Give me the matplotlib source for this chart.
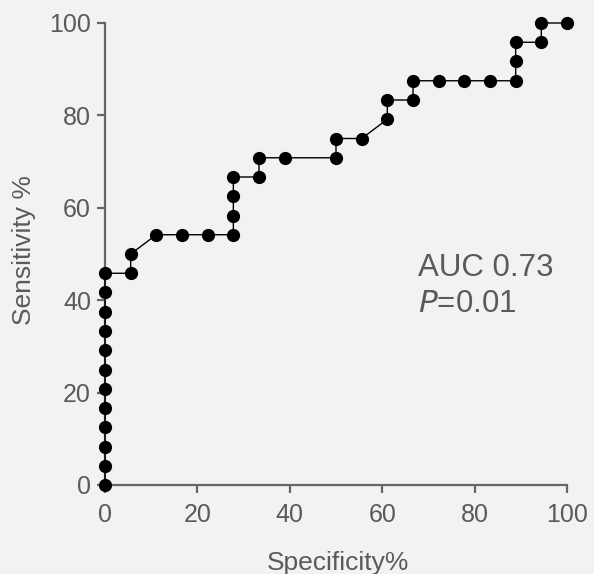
import matplotlib
matplotlib.use('Agg')
import matplotlib.pyplot as plt

# ROC points (specificity %, sensitivity %)
spec = [0]*12 + [5.56, 5.56, 11.11, 16.67, 22.22, 27.78, 27.78, 27.78, 27.78,
        33.33, 33.33, 38.89, 50, 50, 55.56, 61.11, 61.11, 66.67, 66.67,
        72.22, 77.78, 83.33, 88.89, 88.89, 88.89, 94.44, 94.44, 100]
sens = [0, 4.17, 8.33, 12.5, 16.67, 20.83, 25, 29.17, 33.33, 37.5, 41.67, 45.83,
        45.83, 50, 54.17, 54.17, 54.17, 54.17, 58.33, 62.5, 66.67,
        66.67, 70.83, 70.83, 70.83, 75, 75, 79.17, 83.33, 83.33, 87.5,
        87.5, 87.5, 87.5, 87.5, 91.67, 95.83, 95.83, 100, 100]

bg = '#f2f2f2'
gray = '#5a5a5a'
plt.rcParams['font.family'] = ['Liberation Sans', 'DejaVu Sans']

fig = plt.figure(figsize=(5.94, 5.74), dpi=100, facecolor=bg)
ax = fig.add_axes([105/594, 89/574, 462/594, 462/574])
ax.set_facecolor(bg)

ax.plot(spec, sens, '-', color='black', lw=1, marker='o', ms=8.5,
        mfc='black', mec='black', clip_on=False, zorder=3)

ax.set_xlim(0, 100)
ax.set_ylim(0, 100)
ax.set_xticks([0, 20, 40, 60, 80, 100])
ax.set_yticks([0, 20, 40, 60, 80, 100])
for s in ['top', 'right']:
    ax.spines[s].set_visible(False)
for s in ['left', 'bottom']:
    ax.spines[s].set_color('#666666')
    ax.spines[s].set_linewidth(1.6)
ax.tick_params(axis='both', colors='#666666', width=1.6, length=6,
               labelsize=18, labelcolor=gray)
ax.tick_params(axis='x', pad=7)
ax.tick_params(axis='y', pad=4)

fig.text(338/594, 1 - 570/574, 'Specificity%', ha='center', va='baseline',
         fontsize=19, color=gray)
fig.text(24/594, 1 - 250/574, 'Sensitivity %', ha='center', va='center',
         rotation=90, fontsize=19, color=gray)

ax.text(67.7, 45.2, 'AUC 0.73', fontsize=22.5, color=gray, ha='left', va='baseline')
ax.text(67.7, 37.4, '$\\it{P}$=0.01', fontsize=22.5, color=gray, ha='left', va='baseline')

plt.savefig('out.png', dpi=100, facecolor=bg)
